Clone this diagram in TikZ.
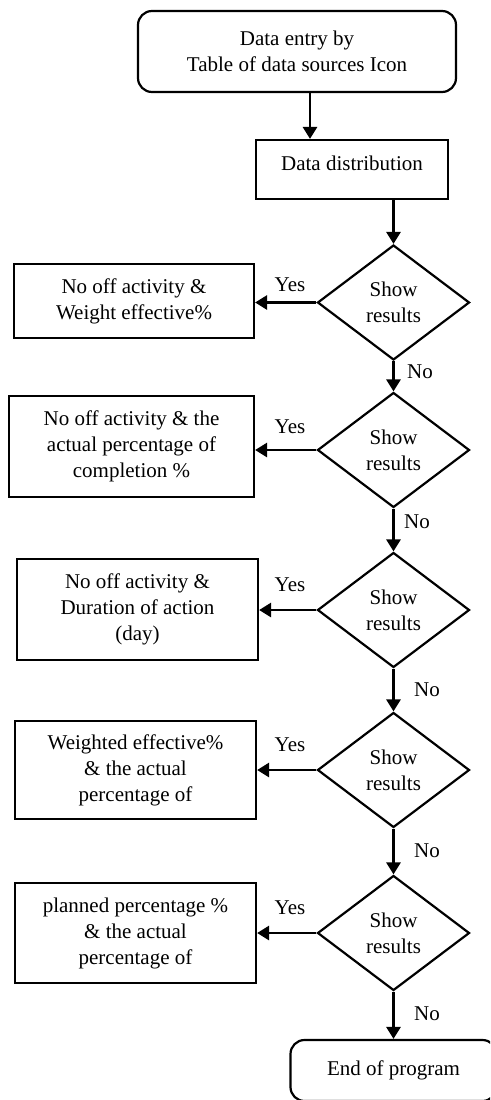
\documentclass[tikz,border=0pt]{standalone}
\usepackage{fontspec}
\setmainfont{Liberation Serif}
\usetikzlibrary{shapes.geometric,arrows.meta}
\begin{document}
\begin{tikzpicture}[x=1pt,y=-1pt,
  every node/.style={font=\fontsize{21}{26}\selectfont},
  procbox/.style={draw,line width=2.2pt,align=center,inner sep=0pt},
  termbox/.style={procbox,rounded corners=14pt},
  decision/.style={draw,diamond,line width=2.2pt,align=center,inner sep=0pt,
    minimum width=152pt,minimum height=115pt},
  flow/.style={line width=2.8pt,-{Triangle[length=12pt,width=14pt]}},
  tag/.style={inner sep=0pt}]
\path[use as bounding box,clip] (0,0) rectangle (490,1100);

% start and distribution
\node[termbox,minimum width=318pt,minimum height=81pt] (start) at (297,51.5)
  {Data entry by\\Table of data sources Icon};
\node[procbox,minimum width=192pt,minimum height=59pt,text depth=12pt] (dd) at (352,169.5)
  {Data distribution};
\coordinate (c1) at (310,0);

% decisions
\node[decision] (d1) at (393.5,302.5) {Show\\results};
\node[decision] (d2) at (393.5,450) {Show\\results};
\node[decision] (d3) at (393.5,610) {Show\\results};
\node[decision] (d4) at (393.5,770) {Show\\results};
\node[decision] (d5) at (393.5,933) {Show\\results};

% outputs
\node[procbox,minimum width=240pt,minimum height=74pt] (b1) at (134,301)
  {No off activity \&\\Weight effective\%};
\node[procbox,minimum width=245pt,minimum height=101pt] (b2) at (131.5,446.5)
  {No off activity \& the\\actual percentage of\\completion \%};
\node[procbox,minimum width=241pt,minimum height=101pt] (b3) at (137.5,609.5)
  {No off activity \&\\Duration of action\\(day)};
\node[procbox,minimum width=241pt,minimum height=98pt] (b4) at (135.5,770)
  {Weighted effective\%\\\& the actual\\percentage of};
\node[procbox,minimum width=241pt,minimum height=100pt] (b5) at (135.5,933)
  {planned percentage \%\\\& the actual\\percentage of};

% end
\node[termbox,minimum width=206pt,minimum height=61pt] (end) at (393.5,1070.5)
  {End of program};

% connectors
\draw[flow] (start.south -| c1) -- (dd.north -| c1);
\draw[flow] (dd.south -| d1.north) -- (d1.north);
\draw[flow] (d1.west) -- (d1.west -| b1.east);
\draw[flow] (d1.south) -- (d2.north);
\draw[flow] (d2.west) -- (d2.west -| b2.east);
\draw[flow] (d2.south) -- (d3.north);
\draw[flow] (d3.west) -- (d3.west -| b3.east);
\draw[flow] (d3.south) -- (d4.north);
\draw[flow] (d4.west) -- (d4.west -| b4.east);
\draw[flow] (d4.south) -- (d5.north);
\draw[flow] (d5.west) -- (d5.west -| b5.east);
\draw[flow] (d5.south) -- (end.north);

% branch labels
\node[tag] (y1) at (290,285) {Yes};
\node[tag] (y2) at (290,427) {Yes};
\node[tag] (y3) at (290,585) {Yes};
\node[tag] (y4) at (290,745) {Yes};
\node[tag] (y5) at (290,908) {Yes};
\node[tag] (n1) at (420,372) {No};
\node[tag] (n2) at (417,522) {No};
\node[tag] (n3) at (427,690) {No};
\node[tag] (n4) at (427,851) {No};
\node[tag] (n5) at (427,1014) {No};
\end{tikzpicture}
\end{document}
